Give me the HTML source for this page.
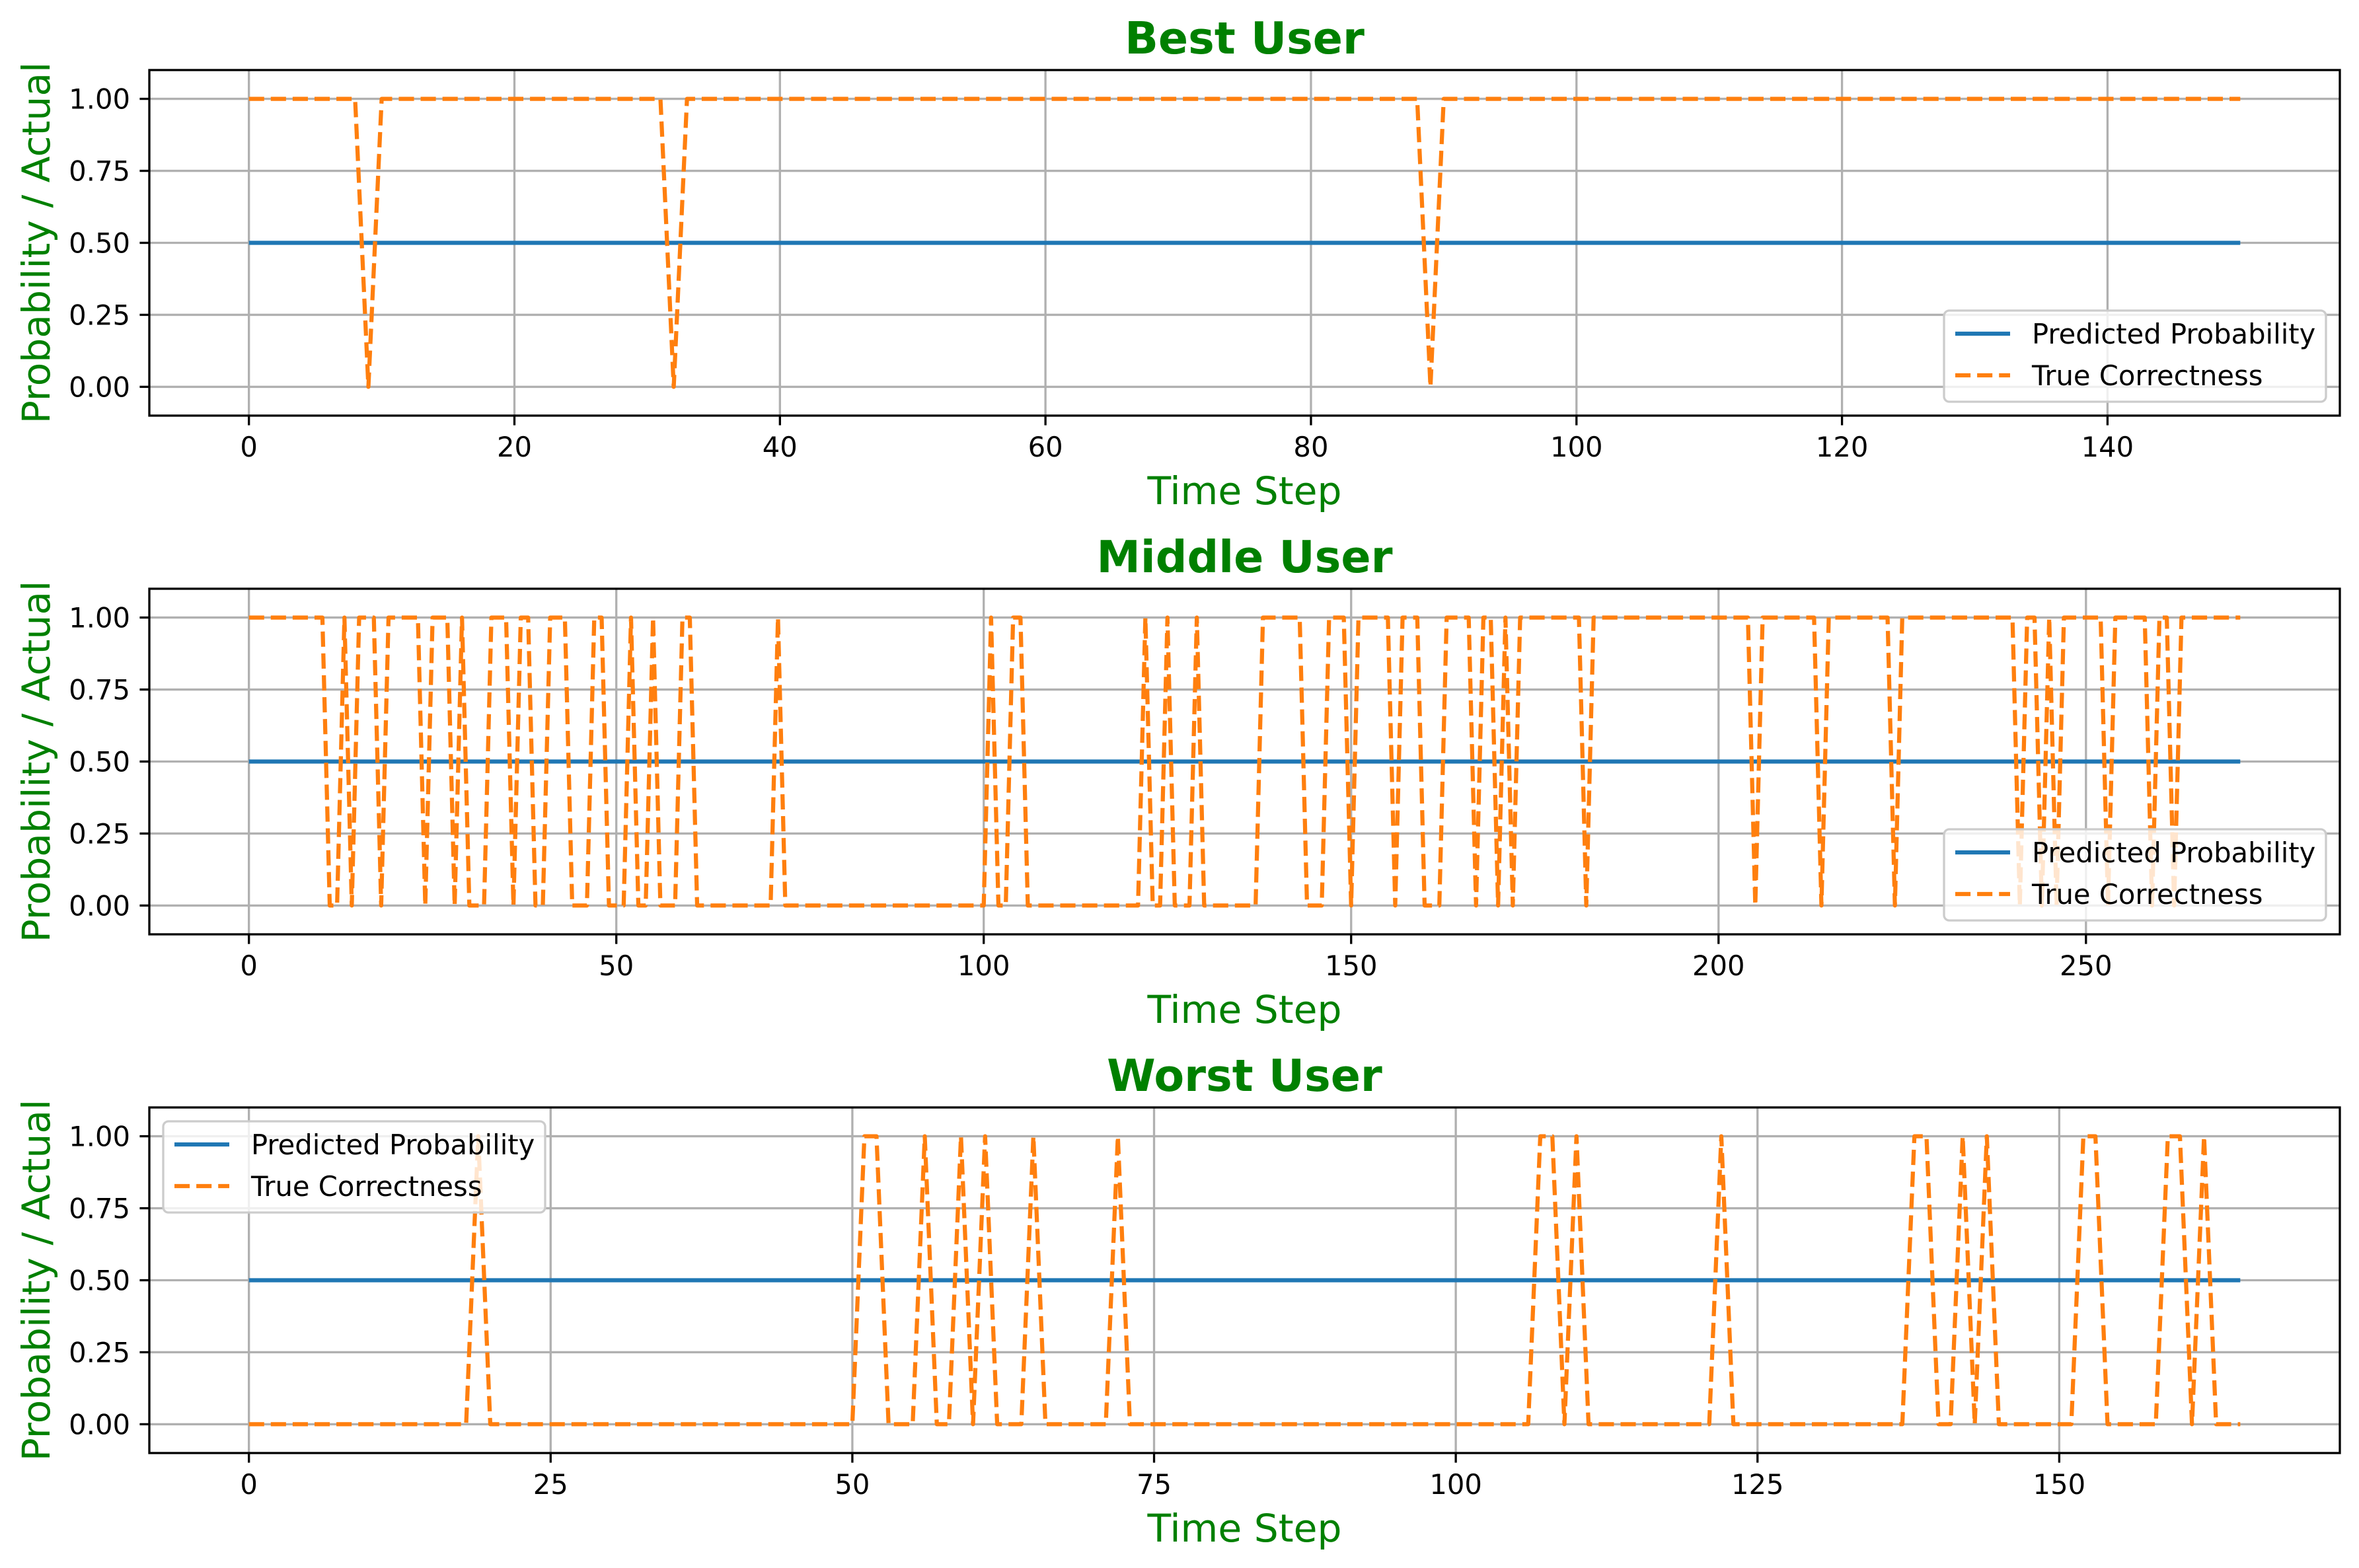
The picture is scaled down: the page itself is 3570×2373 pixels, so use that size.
<!DOCTYPE html>
<html><head><meta charset="utf-8"><style>
html,body{margin:0;padding:0;background:#fff;}
svg{display:block;font-family:"DejaVu Sans","Liberation Sans",sans-serif;}
</style></head><body>
<svg id="fig" width="3570" height="2373" viewBox="0 0 3570 2373" xmlns="http://www.w3.org/2000/svg"></svg>
<script>
// ---------- DATA ----------
const bestTitle = "Best User";
const middleTitle = "Middle User";
const worstTitle = "Worst User";
const predictedValue = [0.5, 0.5, 0.5]; // best, middle, worst
const yTicks = [0, 0.25, 0.5, 0.75, 1.0];
const yTickLabels = ["0.00", "0.25", "0.50", "0.75", "1.00"];
const bestXTicks = [0, 20, 40, 60, 80, 100, 120, 140];
const middleXTicks = [0, 50, 100, 150, 200, 250];
const worstXTicks = [0, 25, 50, 75, 100, 125, 150];
const bestTrue = [
1,1,1,1,1,1,1,1,1,0,
1,1,1,1,1,1,1,1,1,1,
1,1,1,1,1,1,1,1,1,1,
1,1,0,1,1,1,1,1,1,1,
1,1,1,1,1,1,1,1,1,1,
1,1,1,1,1,1,1,1,1,1,
1,1,1,1,1,1,1,1,1,1,
1,1,1,1,1,1,1,1,1,1,
1,1,1,1,1,1,1,1,1,0,
1,1,1,1,1,1,1,1,1,1,
1,1,1,1,1,1,1,1,1,1,
1,1,1,1,1,1,1,1,1,1,
1,1,1,1,1,1,1,1,1,1,
1,1,1,1,1,1,1,1,1,1,
1,1,1,1,1,1,1,1,1,1,
1];
const middleTrue = [
1,1,1,1,1,1,1,1,1,1,
1,0,0,1,0,1,1,1,0,1,
1,1,1,1,0,1,1,1,0,1,
0,0,0,1,1,1,0,1,1,0,
0,1,1,1,0,0,0,1,1,0,
0,0,1,0,0,1,0,0,0,1,
1,0,0,0,0,0,0,0,0,0,
0,0,1,0,0,0,0,0,0,0,
0,0,0,0,0,0,0,0,0,0,
0,0,0,0,0,0,0,0,0,0,
0,1,0,0,1,1,0,0,0,0,
0,0,0,0,0,0,0,0,0,0,
0,0,1,0,0,1,0,0,0,1,
0,0,0,0,0,0,0,0,1,1,
1,1,1,1,0,0,0,1,1,1,
0,1,1,1,1,1,0,1,1,1,
0,0,0,1,1,1,1,0,1,1,
0,1,0,1,1,1,1,1,1,1,
1,1,0,1,1,1,1,1,1,1,
1,1,1,1,1,1,1,1,1,1,
1,1,1,1,1,0,1,1,1,1,
1,1,1,1,0,1,1,1,1,1,
1,1,1,1,0,1,1,1,1,1,
1,1,1,1,1,1,1,1,1,1,
1,0,1,1,0,1,0,1,1,1,
1,1,1,0,1,1,1,1,1,0,
1,1,0,1,1,1,1,1,1,1,
1,1];
const worstTrue = [
0,0,0,0,0,0,0,0,0,0,
0,0,0,0,0,0,0,0,0,1,
0,0,0,0,0,0,0,0,0,0,
0,0,0,0,0,0,0,0,0,0,
0,0,0,0,0,0,0,0,0,0,
0,1,1,0,0,0,1,0,0,1,
0,1,0,0,0,1,0,0,0,0,
0,0,1,0,0,0,0,0,0,0,
0,0,0,0,0,0,0,0,0,0,
0,0,0,0,0,0,0,0,0,0,
0,0,0,0,0,0,0,1,1,0,
1,0,0,0,0,0,0,0,0,0,
0,0,1,0,0,0,0,0,0,0,
0,0,0,0,0,0,0,0,1,1,
0,0,1,0,1,0,0,0,0,0,
0,0,1,1,0,0,0,0,0,1,
1,0,1,0,0,0];

// ---------- DRAW ----------
const NS = "http://www.w3.org/2000/svg";
const svg = document.getElementById("fig");
function mk(tag, attrs, parent) {
  const e = document.createElementNS(NS, tag);
  for (const k in attrs) e.setAttribute(k, attrs[k]);
  (parent || svg).appendChild(e);
  return e;
}
const AX_L = 226, AX_R = 3541, AX_H = 523;
const GREEN = "#008000";

function drawPanel(key, title, top, trueVals, pred, xTicks, legendLeft) {
  const n = trueVals.length;
  const xmin = -0.05 * (n - 1), xmax = (n - 1) * 1.05;
  const ymin = -0.1, ymax = 1.1;
  const bottom = top + AX_H;
  const xs = v => AX_L + (v - xmin) / (xmax - xmin) * (AX_R - AX_L);
  const ys = v => bottom - (v - ymin) / (ymax - ymin) * AX_H;

  const g = mk("g", {});
  
  

  xTicks.forEach(t => {
    const l = mk("line", {x1: xs(t), x2: xs(t), y1: top, y2: bottom, stroke: "#b0b0b0", "stroke-width": 3.3}, g);
    
    
  });
  yTicks.forEach(t => {
    const l = mk("line", {x1: AX_L, x2: AX_R, y1: ys(t), y2: ys(t), stroke: "#b0b0b0", "stroke-width": 3.3}, g);
    
    
  });

  const pl = mk("line", {x1: xs(0), x2: xs(n - 1), y1: ys(pred), y2: ys(pred), stroke: "#1f77b4", "stroke-width": 6.25}, g);
  
  

  const pts = trueVals.map((v, i) => xs(i).toFixed(2) + "," + ys(v).toFixed(2)).join(" ");
  const tl = mk("polyline", {points: pts, fill: "none", stroke: "#ff7f0e", "stroke-width": 6.25, "stroke-dasharray": "23.1 10", "stroke-linejoin": "round"}, g);
  
  

  const fr = mk("rect", {x: AX_L, y: top, width: AX_R - AX_L, height: AX_H, fill: "none", stroke: "#000", "stroke-width": 3.3}, g);
  
  

  xTicks.forEach(t => {
    const tk = mk("line", {x1: xs(t), x2: xs(t), y1: bottom, y2: bottom + 14.6, stroke: "#000", "stroke-width": 3.3}, g);
    
    
    const tx = mk("text", {x: xs(t), y: bottom + 62, "font-size": 41.7, "text-anchor": "middle", fill: "#000"}, g);
    tx.textContent = String(t);
    
    
  });
  yTicks.forEach((t, i) => {
    const tk = mk("line", {x1: AX_L - 14.6, x2: AX_L, y1: ys(t), y2: ys(t), stroke: "#000", "stroke-width": 3.3}, g);
    
    
    const tx = mk("text", {x: AX_L - 29, y: ys(t) + 15, "font-size": 41.7, "text-anchor": "end", fill: "#000"}, g);
    tx.textContent = yTickLabels[i];
    
    
  });

  const tt = mk("text", {x: (AX_L + AX_R) / 2, y: top - 25, "font-size": 66.7, "font-weight": "bold", "text-anchor": "middle", fill: GREEN}, g);
  tt.textContent = title;
  
  
  const xl = mk("text", {x: (AX_L + AX_R) / 2, y: bottom + 134, "font-size": 58.3, "text-anchor": "middle", fill: GREEN}, g);
  xl.textContent = "Time Step";
  
  
  const cy = top + AX_H / 2;
  const yl = mk("text", {x: 0, y: 0, "font-size": 58.3, "text-anchor": "middle", fill: GREEN, transform: "translate(75," + cy + ") rotate(-90)"}, g);
  yl.textContent = "Probability / Actual";
  
  

  const lw = 578, lh = 138;
  const lx = legendLeft ? AX_L + 21 : AX_R - 21 - lw;
  const ly = legendLeft ? top + 21 : bottom - 21 - lh;
  const lg = mk("g", {}, g);
  
  
  mk("rect", {x: lx, y: ly, width: lw, height: lh, rx: 8, fill: "#fff", "fill-opacity": 0.8, stroke: "#cccccc", "stroke-width": 3.3}, lg);
  const e1 = mk("line", {x1: lx + 17, x2: lx + 100, y1: ly + 35, y2: ly + 35, stroke: "#1f77b4", "stroke-width": 6.25}, lg);
  
  
  const t1 = mk("text", {x: lx + 133, y: ly + 50, "font-size": 41.7, fill: "#000"}, lg);
  t1.textContent = "Predicted Probability";
  
  
  const e2 = mk("line", {x1: lx + 17, x2: lx + 100, y1: ly + 98, y2: ly + 98, stroke: "#ff7f0e", "stroke-width": 6.25, "stroke-dasharray": "23.1 10"}, lg);
  
  
  const t2 = mk("text", {x: lx + 133, y: ly + 113, "font-size": 41.7, fill: "#000"}, lg);
  t2.textContent = "True Correctness";
  
  
}

drawPanel("best-user", bestTitle, 106, bestTrue, predictedValue[0], bestXTicks, false);
drawPanel("middle-user", middleTitle, 891, middleTrue, predictedValue[1], middleXTicks, false);
drawPanel("worst-user", worstTitle, 1676, worstTrue, predictedValue[2], worstXTicks, true);
</script>
</body></html>
